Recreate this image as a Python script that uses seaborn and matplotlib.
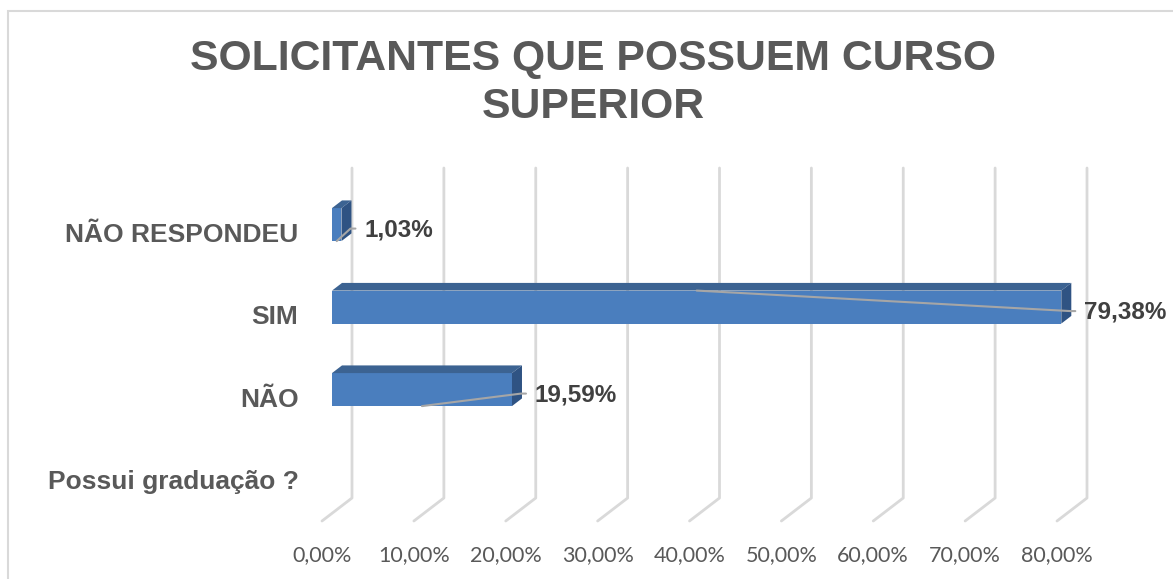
import numpy as np
import pandas as pd
import matplotlib
matplotlib.use("Agg")
import matplotlib.pyplot as plt
import seaborn as sns
from matplotlib.patches import Polygon, Rectangle
from matplotlib.transforms import IdentityTransform, ScaledTranslation

# data
categories = ["NÃO RESPONDEU", "SIM", "NÃO"]
values = [0.0103, 0.7938, 0.1959]
axis_header = "Possui graduação ?"
x_ticks = [0.0, 0.1, 0.2, 0.3, 0.4, 0.5, 0.6, 0.7, 0.8]
title = "SOLICITANTES QUE POSSUEM CURSO\nSUPERIOR"

# styles
W, H = 1173, 579
DPI = 100
front_col = "#4a7ebe"
top_col = "#3c6392"
side_col = "#2f5383"
grid_col = "#d9d9d9"
text_col = "#595959"
label_col = "#404040"
leader_from = ["bottom", "top", "bottom"]
depth = np.array([30.0, 23.0])  # floor depth in pixels (display, y up)
d1 = depth / 3

sns.set_theme(style="white")
plt.rcParams["font.family"] = ["Liberation Sans", "DejaVu Sans"]

fig = plt.figure(figsize=(W / DPI, H / DPI), dpi=DPI)
ax = fig.add_axes([322 / W, (H - 521) / H, (1057 - 322) / W, (521 - 191) / H])

df = pd.DataFrame({"resposta": categories, "valor": values})
sns.barplot(data=df, x="valor", y="resposta", order=categories + [axis_header],
            orient="h", width=0.4, color=front_col, saturation=1,
            linewidth=0, ax=ax, zorder=3)

ax.set_xlim(0, 0.8)
ax.set_ylim(3.5, -0.5)
ax.set_xlabel("")
ax.set_ylabel("")
for s in ax.spines.values():
    s.set_visible(False)
ax.set_xticks(x_ticks)
ax.set_xticklabels([f"{t * 100:.2f}%".replace(".", ",") for t in x_ticks],
                   family=["Lato", "DejaVu Sans"], fontsize=15.5, color=text_col)
ax.tick_params(axis="x", length=0, pad=17)
ax.tick_params(axis="y", length=0, pad=17)
for lab in ax.get_yticklabels():
    lab.set_fontweight("bold")
    lab.set_fontsize(19)
    lab.set_color(text_col)

px = IdentityTransform()

# 3D gridlines: back wall + floor diagonal
for t in x_ticks:
    fb = ax.transData.transform((t, 3.5))
    bb = fb + depth
    bt = ax.transData.transform((t, -0.5)) + depth
    ax.plot([bt[0], bb[0], fb[0]], [bt[1], bb[1], fb[1]], transform=px,
            color=grid_col, lw=2, clip_on=False, zorder=0)

# bars: shift front face, add top and side faces
shift = ScaledTranslation(d1[0] / DPI, d1[1] / DPI, fig.dpi_scale_trans)
bars = [p for p in ax.patches if p.get_width() > 0]
for patch, side in zip(bars, leader_from):
    x0, y0 = patch.get_x(), patch.get_y()
    x1, y1 = x0 + patch.get_width(), y0 + patch.get_height()
    patch.set_transform(ax.transData + shift)
    patch.set_clip_on(False)
    fr = lambda x, y: ax.transData.transform((x, y)) + d1
    tl, tr, br, bl = fr(x0, y0), fr(x1, y0), fr(x1, y1), fr(x0, y1)
    ax.add_patch(Polygon([tl, tr, tr + d1, tl + d1], closed=True, transform=px,
                         facecolor=top_col, edgecolor="none", clip_on=False, zorder=3))
    ax.add_patch(Polygon([tr, br, br + d1, tr + d1], closed=True, transform=px,
                         facecolor=side_col, edgecolor="none", clip_on=False, zorder=3))

    v = patch.get_width()
    lx = tr[0] + 23
    ly = (tr[1] + br[1]) / 2 - 5
    ax.text(lx, ly, f"{v * 100:.2f}%".replace(".", ","), transform=px,
            ha="left", va="center", fontsize=17.5, fontweight="bold",
            color=label_col, zorder=5)
    start = fr((x0 + x1) / 2, y1 if side == "bottom" else y0)
    ax.plot([start[0], lx - 14, lx - 9], [start[1], ly + 1, ly + 1], transform=px,
            color="#a6a6a6", lw=1.5, clip_on=False, zorder=4)

fig.text(593 / W, 1 - 83 / H, title, ha="center", va="center", fontsize=30.8,
         fontweight="bold", color=text_col, linespacing=1.26)

fig.add_artist(Rectangle((8, -20), 1200, H - 11 + 20, transform=px, fill=False,
                         edgecolor=grid_col, lw=1.5, clip_on=False))

fig.savefig("out.png", dpi=DPI)
